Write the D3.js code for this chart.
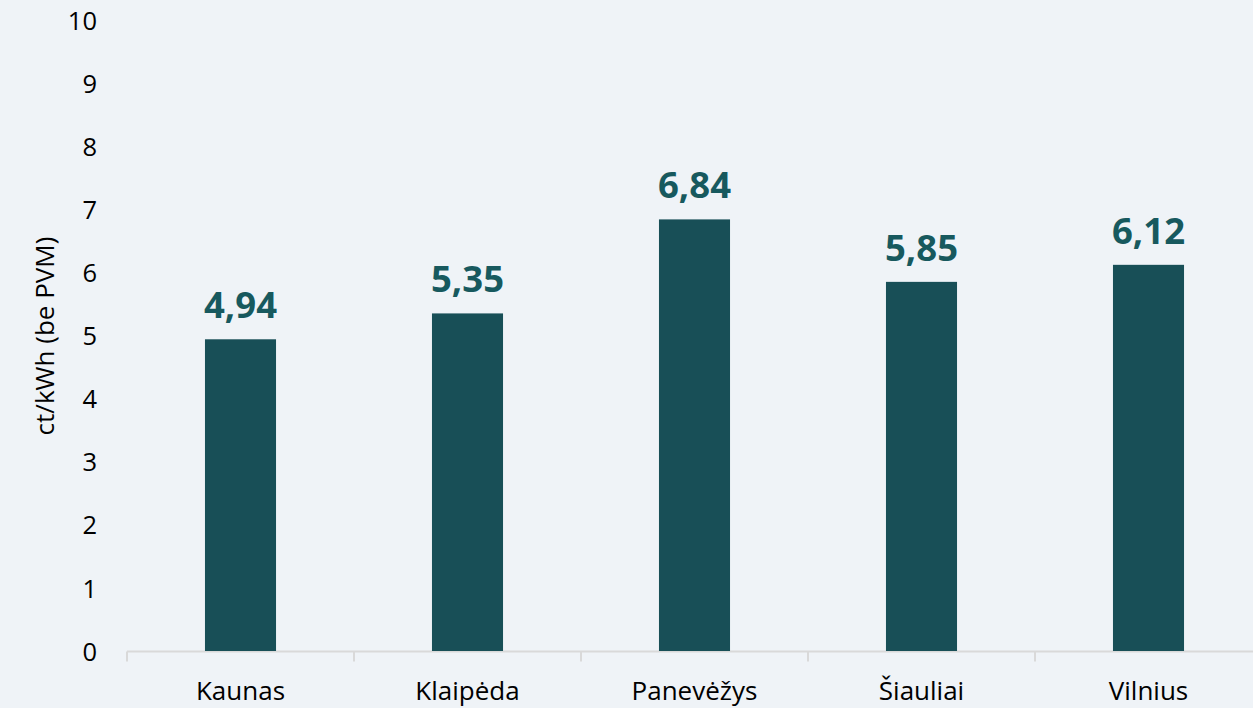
<!DOCTYPE html>
<html><head><meta charset="utf-8">
<script src="https://cdn.jsdelivr.net/npm/d3@7"></script>
<style>
html,body{margin:0;padding:0;background:#eff3f7;}
svg{display:block;}
text{font-family:"Open Sans",sans-serif;}
</style></head>
<body>
<svg id="c" width="1253" height="708"></svg>
<script>
const categories = ["Kaunas","Klaipėda","Panevėžys","Šiauliai","Vilnius"];
const values = [4.94, 5.35, 6.84, 5.85, 6.12];
const valueLabels = ["4,94","5,35","6,84","5,85","6,12"];
const yTicks = [0,1,2,3,4,5,6,7,8,9,10];
const yTitle = "ct/kWh (be PVM)";

const svg = d3.select("#c");
svg.append("rect").attr("width",1253).attr("height",708).attr("fill","#eff3f7");

const x = d3.scaleBand().domain(categories).range([127, 1262]).paddingInner(0.687).paddingOuter(0.3435);
const y = d3.scaleLinear().domain([0,10]).range([651, 20]);

// y tick labels
const yAxis = svg.append("g").attr("transform","translate(97,0)")
  .call(d3.axisLeft(y).tickValues(yTicks).tickSize(0).tickPadding(0).tickFormat(d3.format("d")));
yAxis.select(".domain").remove();
yAxis.selectAll("text").attr("font-size",25.5).attr("fill","#000").attr("font-family","'Open Sans',sans-serif").attr("dy","0.36em");

// x axis
const xAxisG = svg.append("g").attr("transform","translate(0,651.5)");
xAxisG.append("line").attr("x1",127).attr("x2",1262).attr("stroke","#d9d9d9").attr("stroke-width",2);
const bounds = d3.range(categories.length+1).map(i => 127 + i*x.step());
xAxisG.selectAll("line.tk").data(bounds).join("line").attr("class","tk")
  .attr("x1",d=>d).attr("x2",d=>d).attr("y1",0).attr("y2",10).attr("stroke","#d9d9d9").attr("stroke-width",2);
xAxisG.selectAll("text").data(categories).join("text")
  .attr("x",d=>x(d)+x.bandwidth()/2).attr("y",48.5).attr("text-anchor","middle")
  .attr("font-size",26).attr("fill","#000").text(d=>d);

// bars
svg.selectAll("rect.bar").data(values).join("rect").attr("class","bar")
  .attr("x",(d,i)=>x(categories[i])).attr("width",x.bandwidth())
  .attr("y",d=>y(d)).attr("height",d=>y(0)-y(d)).attr("fill","#184f57");

// value labels
svg.selectAll("text.val").data(values).join("text").attr("class","val")
  .attr("x",(d,i)=>x(categories[i])+x.bandwidth()/2).attr("y",d=>y(d)-21)
  .attr("text-anchor","middle").attr("font-size",36.5).attr("font-weight","bold")
  .attr("fill","#17595e").text((d,i)=>valueLabels[i]);

// y title
svg.append("text").attr("transform","translate(54,336) rotate(-90)")
  .attr("text-anchor","middle").attr("font-size",26).attr("fill","#000").text(yTitle);
</script>
</body></html>
